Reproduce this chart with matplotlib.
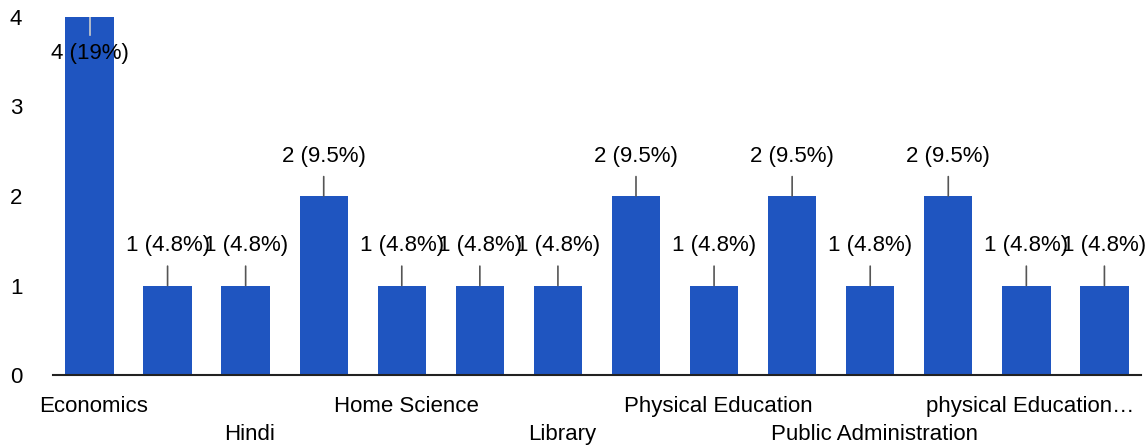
import matplotlib.pyplot as plt

plt.rcParams['font.family'] = ['Liberation Sans', 'DejaVu Sans']

# categories (only every other name is printed on the axis in the reference)
categories = ['Economics', '', 'Hindi', '', 'Home Science', '', 'Library', '',
              'Physical Education', '', 'Public Administration', '',
              'physical Education…', '']
counts = [4, 1, 1, 2, 1, 1, 1, 2, 1, 2, 1, 2, 1, 1]
percents = ['19%', '4.8%', '4.8%', '9.5%', '4.8%', '4.8%', '4.8%', '9.5%',
            '4.8%', '9.5%', '4.8%', '9.5%', '4.8%', '4.8%']
yticks = [0, 1, 2, 3, 4]

bar_color = '#1f55c0'
fs = 16

fig = plt.figure(figsize=(11.48, 4.45), dpi=100)
ax = fig.add_axes([0.046, 0.157, 0.948, 0.805])

x = list(range(len(counts)))
ax.bar(x, counts, width=0.62, color=bar_color, zorder=2)

ax.set_xlim(-0.47, len(counts) - 0.53)
ax.set_ylim(0, 4)
ax.set_yticks(yticks)
ax.set_yticklabels([str(t) for t in yticks], fontsize=fs)
ax.tick_params(axis='y', length=0, pad=22)

ax.set_xticks([])
for i, name in enumerate(categories):
    if not name:
        continue
    row = (i // 2) % 2
    ax.annotate(name, (i, 0), xytext=(3, -15 - row * 20), textcoords='offset points',
                ha='center', va='top', fontsize=fs, annotation_clip=False)

for s in ['top', 'right', 'left']:
    ax.spines[s].set_visible(False)
ax.spines['bottom'].set_color('#222222')
ax.spines['bottom'].set_linewidth(1.5)

for i, (c, p) in enumerate(zip(counts, percents)):
    label = '%d (%s)' % (c, p)
    if c == max(counts):
        ax.plot([i, i], [c, c - 0.2], color='#cccccc', lw=1.2, zorder=3)
        ax.annotate(label, (i, c), xytext=(0, -26), textcoords='offset points',
                    ha='center', va='center', fontsize=fs, zorder=4)
    else:
        ax.annotate(label, (i, c), xytext=(0, 21), textcoords='offset points',
                    ha='center', va='bottom', fontsize=fs,
                    arrowprops=dict(arrowstyle='-', color='#555555', lw=1.2,
                                    shrinkA=5, shrinkB=0))

fig.savefig('out.png', dpi=100)
